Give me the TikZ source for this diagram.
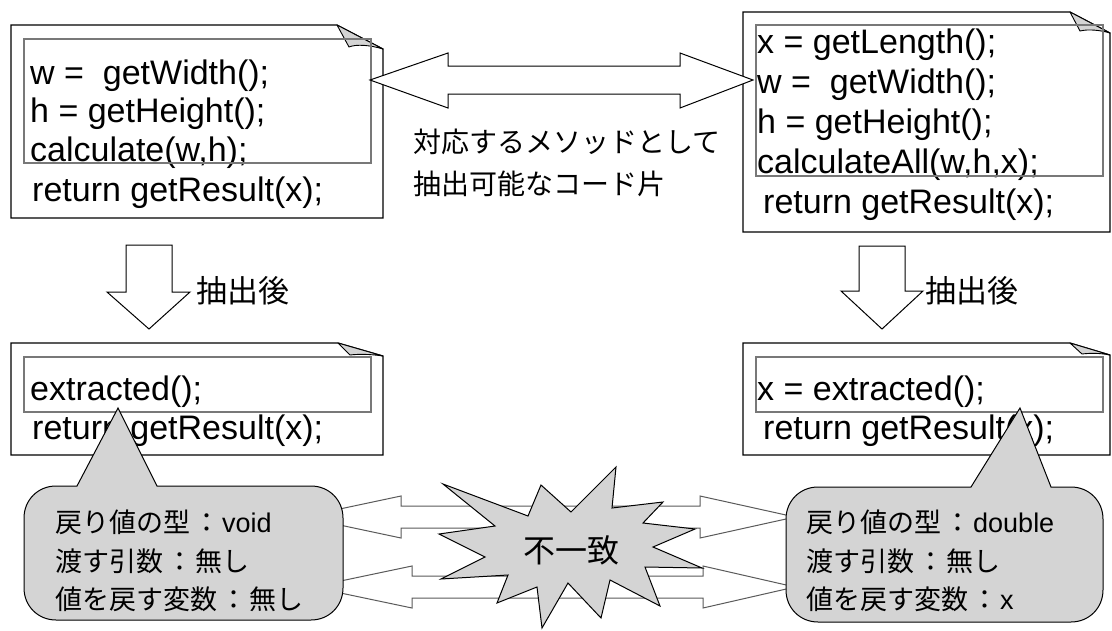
\documentclass[tikz,border=0pt]{standalone}
\usepackage{fontspec}
\setmainfont{Liberation Sans}
\newfontfamily\cjk{Noto Sans CJK JP}
\definecolor{fillgray}{RGB}{212,212,212}
\definecolor{innergray}{RGB}{120,120,120}
\definecolor{arrowgray}{RGB}{90,90,90}
\tikzset{
  outerbox/.style={draw=black, line width=1.2pt, fill=white},
  innerbox/.style={draw=innergray, line width=1.4pt},
  flap/.style={draw=black, fill=fillgray, line width=0.9pt, line join=round},
  code/.style={anchor=base west, inner sep=0pt, font=\fontsize{34}{39}\selectfont},
  jp/.style={anchor=base west, inner sep=0pt, font=\cjk\fontsize{28}{34}\selectfont},
  jpafter/.style={anchor=base west, inner sep=0pt, font=\cjk\fontsize{31}{34}\selectfont},
  info/.style={anchor=base west, inner sep=0pt, font=\fontsize{27}{30}\selectfont},
  blockarrow/.style={draw=black, fill=white, line width=1pt, line join=miter},
  grayarrow/.style={draw=arrowgray, fill=white, line width=1pt},
  burst/.style={draw=black, fill=fillgray, line width=1pt, line join=miter},
  bubble/.style={draw=black, fill=fillgray, line width=1pt},
}
\newcommand{\sep}{\hspace{3pt}{\cjk ：}\hspace{2pt}}
\begin{document}
\begin{tikzpicture}[x=1pt,y=-1pt]
\useasboundingbox (0,0) rectangle (1112,630);
\fill[white] (0,0) rectangle (1112,630);

% ---------- top-left box ----------
\draw[outerbox] (11,25) -- (337,25) -- (383,49) -- (383,218) -- (11,218) -- cycle;
\draw[flap] (337,25) -- (349,47) .. controls (356,44) and (370,45) .. (383,49) -- cycle;
\node[code] (tl1) at (30,84) {w = \ getWidth();};
\node[code] (tl2) at (30,122) {h = getHeight();};
\node[code] (tl3) at (30,161) {calculate(w,h);};
\node[code] (tl4) at (32,201) {return getResult(x);};
\draw[innerbox] (24,39) rectangle (371,163);

% ---------- top-right box ----------
\draw[outerbox] (743,12) -- (1070,12) -- (1110,33) -- (1110,232) -- (743,232) -- cycle;
\draw[flap] (1070,12) -- (1080,31) .. controls (1088,29) and (1100,30) .. (1110,33) -- cycle;
\node[code] (tr1) at (757,53) {x = getLength();};
\node[code] (tr2) at (757,93) {w = \ getWidth();};
\node[code] (tr3) at (757,133) {h = getHeight();};
\node[code] (tr4) at (757,173) {calculateAll(w,h,x);};
\node[code] (tr5) at (763,213) {return getResult(x);};
\draw[innerbox] (756,25) rectangle (1103,176);

% ---------- top double arrow ----------
\coordinate (dl) at (370,80);
\coordinate (dr) at (753,80);
\draw[blockarrow] (dl) -- (448,53) -- (448,66) -- (680,66) -- (680,53) -- (dr)
  -- (680,108) -- (680,94) -- (448,94) -- (448,108) -- cycle;
\node[jp] (mid1) at (413,152) {対応するメソッドとして};
\node[jp] (mid2) at (413,194) {抽出可能なコード片};

% ---------- down arrows ----------
\draw[blockarrow] (126,245) -- (172,245) -- (172,292) -- (190,292) -- (149,329)
  -- (107,292) -- (126,292) -- cycle;
\node[jpafter] (after1) at (196,302) {抽出後};
\draw[blockarrow] (859,246) -- (905,246) -- (905,291) -- (923,291) -- (882,329)
  -- (841,291) -- (859,291) -- cycle;
\node[jpafter] (after2) at (925,302) {抽出後};

% ---------- bottom-left box ----------
\draw[outerbox] (11,343) -- (338,343) -- (383,356) -- (383,455) -- (11,455) -- cycle;
\draw[flap] (338,343) -- (350,355) .. controls (358,354) and (370,354) .. (383,356) -- cycle;
\node[code] (bl1) at (30,400) {extracted();};
\node[code] (bl2) at (32,439) {return getResult(x);};
\draw[innerbox] (24,357) rectangle (371,412);

% ---------- bottom-right box ----------
\draw[outerbox] (743,343) -- (1070,343) -- (1110,355) -- (1110,455) -- (743,455) -- cycle;
\draw[flap] (1070,343) -- (1082,354) .. controls (1090,353) and (1100,353) .. (1110,355) -- cycle;
\node[code] (br1) at (757,400) {x = extracted();};
\node[code] (br2) at (763,439) {return getResult(x);};
\draw[innerbox] (756,357) rectangle (1103,412);

% ---------- bottom double arrows ----------
\draw[grayarrow] (302,517) -- (401,496) -- (401,506) -- (700,506) -- (700,496) -- (795,517)
  -- (700,538) -- (700,528) -- (401,528) -- (401,538) -- cycle;
\draw[grayarrow] (312,587) -- (412,566) -- (412,576) -- (703,576) -- (703,566) -- (795,587)
  -- (703,608) -- (703,598) -- (412,598) -- (412,608) -- cycle;

% ---------- burst ----------
\draw[burst] (443,484) -- (528,516) -- (541,485) -- (571,512) -- (616,467) -- (612,508)
  -- (663,502) -- (643,523) -- (695,529) -- (653,547) -- (702,568) -- (645,567)
  -- (660,606) -- (610,580) -- (601,618) -- (568,583) -- (542,628) -- (537,587)
  -- (497,603) -- (508,575) -- (441,579) -- (485,557) -- (439,534) -- (495,526) -- cycle;
\node[inner sep=0pt, font=\cjk\fontsize{32}{36}\selectfont] (mismatch) at (571,550) {不一致};

% ---------- callouts ----------
\draw[bubble] (118,408) -- (157,486) -- (311,486) .. controls (329,486) and (343,500) .. (343,518)
  -- (343,588) .. controls (343,606) and (329,620) .. (311,620)
  -- (56,620) .. controls (38,620) and (24,606) .. (24,588)
  -- (24,518) .. controls (24,500) and (38,486) .. (56,486) -- (77,486) -- cycle;
\node[info] (lc1) at (55,532) {{\cjk 戻り値の型}\sep void};
\node[info] (lc2) at (55,571) {{\cjk 渡す引数}\sep{\cjk 無し}};
\node[info] (lc3) at (55,609) {{\cjk 値を戻す変数}\sep{\cjk 無し}};

\draw[bubble] (1020,408) -- (1051,487) -- (1071,487) .. controls (1089,487) and (1103,501) .. (1103,519)
  -- (1103,590) .. controls (1103,608) and (1089,622) .. (1071,622)
  -- (818,622) .. controls (800,622) and (786,608) .. (786,590)
  -- (786,519) .. controls (786,501) and (800,487) .. (818,487) -- (971,487) -- cycle;
\node[info] (rc1) at (806,532) {{\cjk 戻り値の型}\sep double};
\node[info] (rc2) at (806,571) {{\cjk 渡す引数}\sep{\cjk 無し}};
\node[info] (rc3) at (806,609) {{\cjk 値を戻す変数}\sep x};
\end{tikzpicture}
\end{document}
